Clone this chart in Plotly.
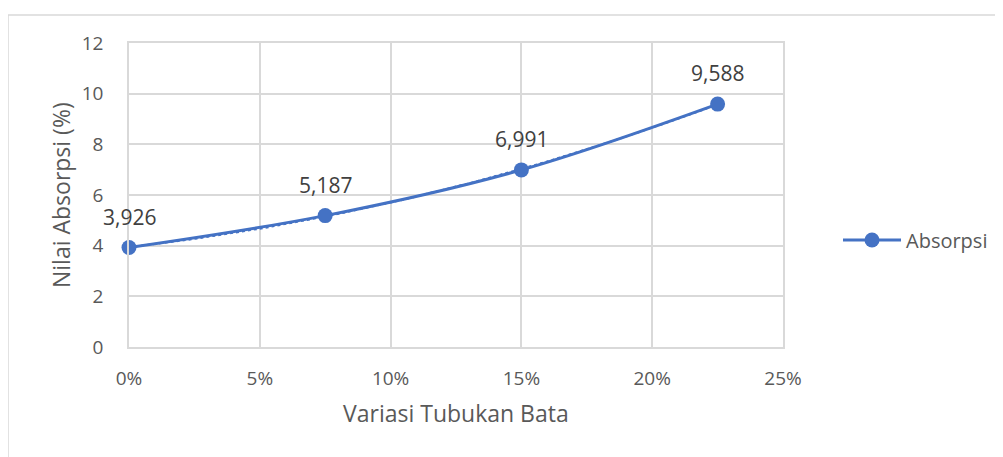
import numpy as np
import plotly.graph_objects as go

x_vals = [0.0, 0.075, 0.15, 0.225]
y_vals = [3.926, 5.187, 6.991, 9.588]
labels = ["3,926", "5,187", "6,991", "9,588"]
series_name = "Absorpsi"
x_title = "Variasi Tubukan Bata"
y_title = "Nilai Absorpsi (%)"

color = "#4472C4"
txt = "#595959"
grid = "#d9d9d9"
FONT = "Open Sans"

# polynomial (order 2) trendline derived from the data
coef = np.polyfit(x_vals, y_vals, 2)
tx = np.linspace(x_vals[0], x_vals[-1], 60)
ty = np.polyval(coef, tx)

fig = go.Figure()
fig.add_trace(go.Scatter(x=tx, y=ty, mode="lines", showlegend=False, cliponaxis=False,
                         line=dict(color=color, width=2, dash="dot"), hoverinfo="skip"))
fig.add_trace(go.Scatter(x=x_vals, y=y_vals, mode="lines+markers", name=series_name,
                         cliponaxis=False,
                         line=dict(color=color, width=3, shape="spline"),
                         marker=dict(size=15, color=color)))

for i, (xv, yv, lb) in enumerate(zip(x_vals, y_vals, labels)):
    fig.add_annotation(x=xv, y=yv, text=lb, showarrow=False, yshift=31,
                       font=dict(size=21, color="#404040", family=FONT))

OFF = 8  # browser body margin
W, H = 1003 - OFF, 457 - OFF
L, R, T, B = 129 - OFF, 220, 43 - OFF, 110
pw, ph = W - L - R, H - T - B

def px(x):
    return (x - OFF - L) / pw

def py(y):
    return (H - B - (y - OFF)) / ph

fig.add_shape(type="rect", xref="paper", yref="paper",
              x0=px(8), x1=px(1010), y0=py(470), y1=py(15),
              line=dict(color=grid, width=1.5), fillcolor="rgba(0,0,0,0)", layer="below")

fig.add_annotation(xref="paper", yref="paper", x=px(456), y=py(413), text=x_title,
                   xanchor="center", yanchor="middle",
                   showarrow=False, font=dict(size=23, color=txt, family=FONT))
fig.add_annotation(xref="paper", yref="paper", x=px(61), y=py(195), text=y_title, textangle=-90,
                   xanchor="center", yanchor="middle",
                   showarrow=False, font=dict(size=23, color=txt, family=FONT))

fig.update_layout(
    width=W, height=H,
    margin=dict(l=L, r=R, t=T, b=B, autoexpand=False),
    paper_bgcolor="white", plot_bgcolor="white",
    font=dict(family=FONT, color=txt, size=19),
    showlegend=True,
    legend=dict(x=px(838), y=py(240), xanchor="left", yanchor="middle", itemwidth=58,
                font=dict(size=20, color=txt, family=FONT), bgcolor="rgba(0,0,0,0)"),
    xaxis=dict(range=[0, 0.25], dtick=0.05, tickformat=".0%", showgrid=True, gridcolor=grid,
               gridwidth=1.5, zeroline=False, showline=True, linecolor=grid, linewidth=1.5,
               mirror=True, ticks="", ticklabelstandoff=13, automargin=False,
               tickfont=dict(size=19, color=txt)),
    yaxis=dict(range=[0, 12], dtick=2, showgrid=True, gridcolor=grid, gridwidth=1.5, zeroline=False,
               showline=True, linecolor=grid, linewidth=1.5, mirror=True, ticks="",
               ticklabelstandoff=20, automargin=False,
               tickfont=dict(size=19, color=txt)),
)

fig.write_html("out.html")
